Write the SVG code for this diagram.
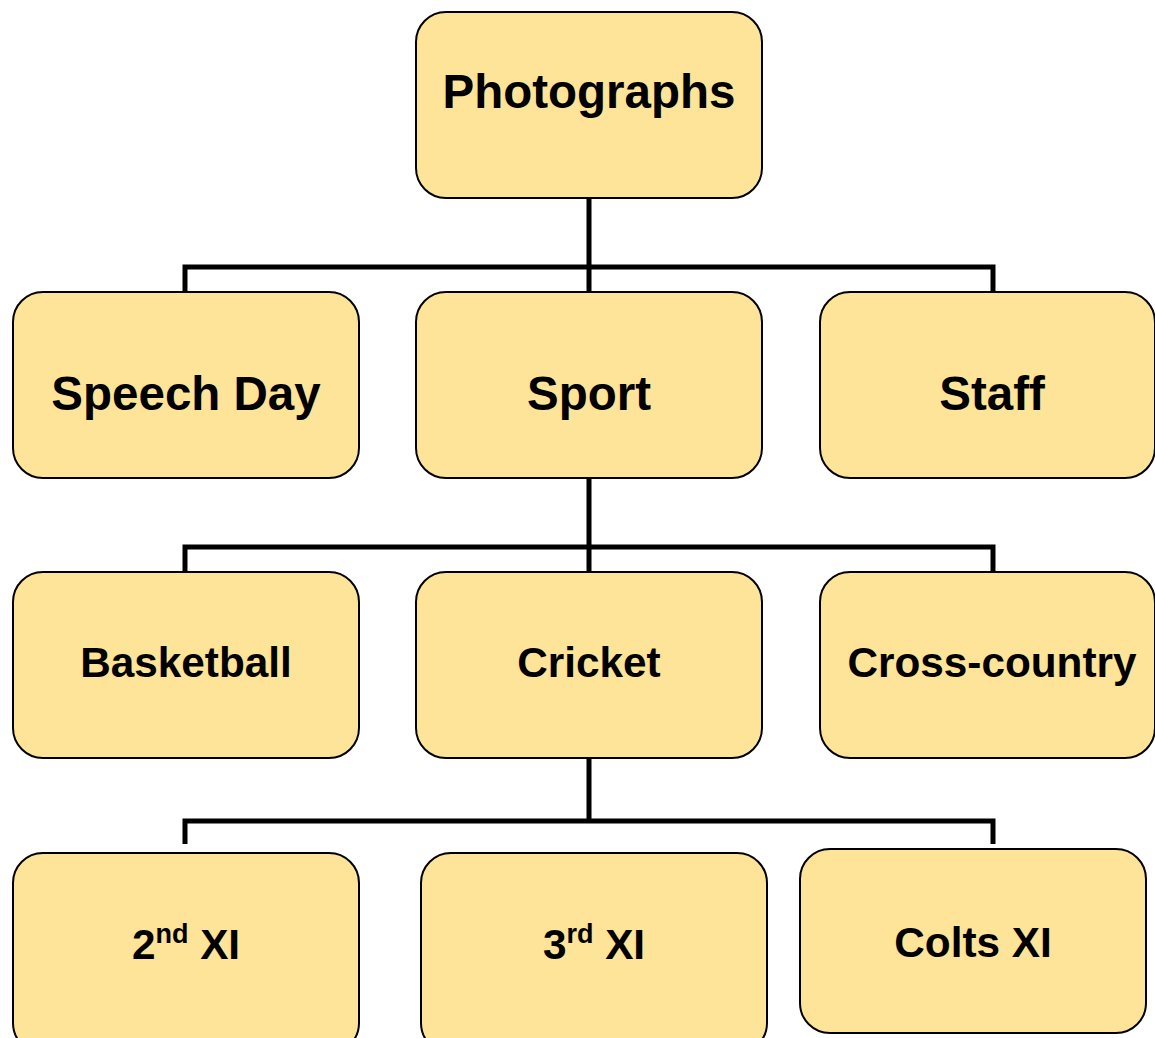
<svg xmlns="http://www.w3.org/2000/svg" width="1155" height="1038" viewBox="0 0 1155 1038">
<style>
.box{fill:#FEE499;stroke:#000;stroke-width:2}
.t{font-family:"Liberation Sans",Arial,sans-serif;font-weight:bold;fill:#000;text-anchor:middle}
.big{font-size:47.5px}
.med{font-size:42.3px}
.conn{fill:none;stroke:#000;stroke-width:5;stroke-linecap:butt;stroke-linejoin:miter}
</style>
<rect width="1155" height="1038" fill="#fff"/>
<g id="connectors">
<path class="conn" d="M589,198 V291 M185,291 V267 H993 V291"/>
<path class="conn" d="M589,478 V571 M185,571 V547 H993 V571"/>
<path class="conn" d="M589,757 V821 M185,844 V821 H993 V844"/>
</g>
<g id="photographs"><rect class="box" x="416" y="12" width="346" height="186" rx="30"/><text class="t big" x="589" y="108">Photographs</text></g>
<g id="speech-day"><rect class="box" x="13" y="292" width="346" height="186" rx="30"/><text class="t big" x="186" y="410">Speech Day</text></g>
<g id="sport"><rect class="box" x="416" y="292" width="346" height="186" rx="30"/><text class="t big" x="589" y="410">Sport</text></g>
<g id="staff"><rect class="box" x="820" y="292" width="335" height="186" rx="30"/><text class="t big" x="992" y="410">Staff</text></g>
<g id="basketball"><rect class="box" x="13" y="572" width="346" height="186" rx="30"/><text class="t med" x="186" y="677">Basketball</text></g>
<g id="cricket"><rect class="box" x="416" y="572" width="346" height="186" rx="30"/><text class="t med" x="589" y="677">Cricket</text></g>
<g id="cross-country"><rect class="box" x="820" y="572" width="335" height="186" rx="30"/><text class="t med" x="992" y="677">Cross-country</text></g>
<g id="second-xi"><rect class="box" x="13" y="853" width="346" height="200" rx="30"/><text class="t med" x="186" y="959">2<tspan font-size="27" dy="-16">nd</tspan><tspan dy="16"> XI</tspan></text></g>
<g id="third-xi"><rect class="box" x="421" y="853" width="346" height="200" rx="30"/><text class="t med" x="594" y="959">3<tspan font-size="27" dy="-16">rd</tspan><tspan dy="16"> XI</tspan></text></g>
<g id="colts-xi"><rect class="box" x="800" y="849" width="346" height="184" rx="30"/><text class="t med" x="973" y="957">Colts XI</text></g>
</svg>
